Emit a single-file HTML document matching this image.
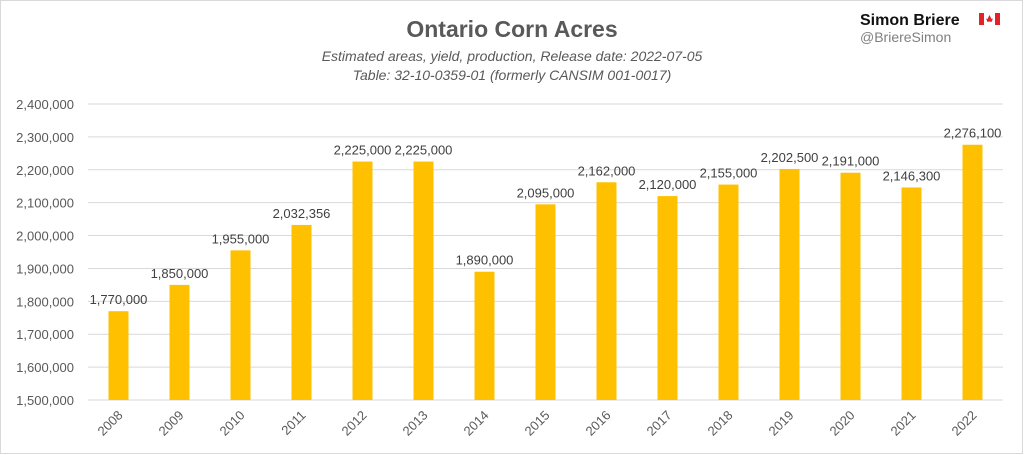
<!DOCTYPE html>
<html><head><meta charset="utf-8"><style>
body{margin:0;background:#fff;}
#wrap{position:relative;width:1024px;height:455px;overflow:hidden;font-family:"Liberation Sans",sans-serif;}
</style></head><body>
<div id="wrap">
<svg id="chart" width="1024" height="455" xmlns="http://www.w3.org/2000/svg">
<rect x="0.5" y="0.5" width="1022" height="453" fill="#fff" stroke="#d9d9d9"/>
<text x="512" y="37" text-anchor="middle" font-size="23" font-weight="bold" fill="#595959">Ontario Corn Acres</text>
<text x="512" y="61" text-anchor="middle" font-size="14" font-style="italic" fill="#595959">Estimated areas, yield, production, Release date: 2022-07-05</text>
<text x="512" y="80" text-anchor="middle" font-size="14" font-style="italic" fill="#595959">Table: 32-10-0359-01 (formerly CANSIM 001-0017)</text>
<text x="860" y="25" font-size="16" font-weight="bold" fill="#111">Simon Briere</text>
<g>
<rect x="979" y="13" width="21" height="12" fill="#fff"/>
<rect x="979" y="13" width="5" height="12" fill="#e0242a"/>
<rect x="995" y="13" width="5" height="12" fill="#e0242a"/>
<path d="M989.5 15 L991.5 19 L993 18.5 L991.5 22 L989.5 21.5 L987.5 22 L986 18.5 L987.5 19 Z" fill="#e0242a"/>
</g>
<text x="860" y="42" font-size="14" fill="#7f7f7f">@BriereSimon</text>
<g id="grid"></g><g id="bars"></g><g id="labels"></g>
</svg>
</div>
<script>
const years=["2008","2009","2010","2011","2012","2013","2014","2015","2016","2017","2018","2019","2020","2021","2022"];
const acres=[1770000,1850000,1955000,2032356,2225000,2225000,1890000,2095000,2162000,2120000,2155000,2202500,2191000,2146300,2276100];
const yTicks=[1500000,1600000,1700000,1800000,1900000,2000000,2100000,2200000,2300000,2400000];
const NS="http://www.w3.org/2000/svg";
const plotLeft=88,plotRight=1003,plotTop=104,plotBottom=400,ymin=1500000,ymax=2400000;
const yScale=v=>plotBottom-(v-ymin)/(ymax-ymin)*(plotBottom-plotTop);
const band=(plotRight-plotLeft)/years.length;
const xScale=i=>plotLeft+band*i+band/2;
const fmt=v=>v.toLocaleString("en-US");
function mk(t,a,p){const e=document.createElementNS(NS,t);for(const k in a)e.setAttribute(k,a[k]);p.appendChild(e);return e;}
const gGrid=document.getElementById("grid"),gBars=document.getElementById("bars"),gLab=document.getElementById("labels");
yTicks.forEach(v=>{
 const ln=mk("line",{x1:plotLeft,x2:plotRight,y1:yScale(v),y2:yScale(v),stroke:"#d9d9d9","stroke-width":1},gGrid);
 
 
 const t=mk("text",{x:74,y:yScale(v)+5,"text-anchor":"end","font-size":13,fill:"#595959"},gGrid);
 t.textContent=fmt(v);
 
 
});
const bw=20;
years.forEach((yr,i)=>{
 const r=mk("rect",{x:xScale(i)-bw/2,y:yScale(acres[i]),width:bw,height:plotBottom-yScale(acres[i]),fill:"#ffc000"},gBars);
 
 
 const t=mk("text",{x:xScale(i),y:yScale(acres[i])-7,"text-anchor":"middle","font-size":13,fill:"#404040"},gLab);
 t.textContent=fmt(acres[i]);
 
 
 const tx=xScale(i)+5,ty=plotBottom+16;
 const xt=mk("text",{x:tx,y:ty,"text-anchor":"end","font-size":13,fill:"#595959",transform:"rotate(-45 "+tx+" "+ty+")"},gLab);
 xt.textContent=yr;
 
 
});
</script>
</body></html>
